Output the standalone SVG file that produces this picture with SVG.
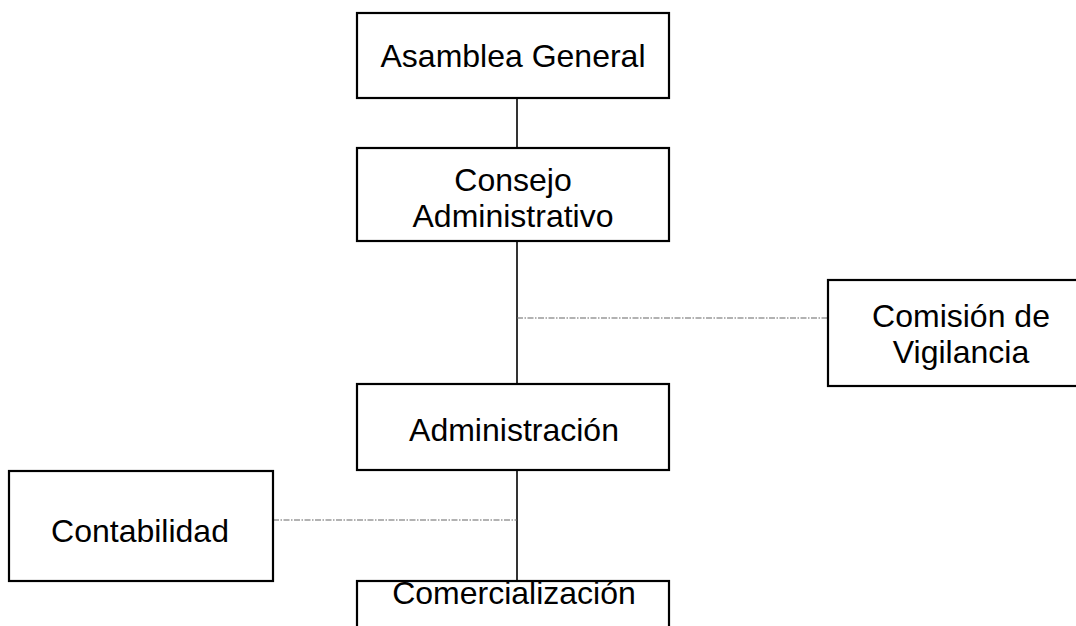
<svg xmlns="http://www.w3.org/2000/svg" width="1076" height="626" viewBox="0 0 1076 626">
<style>
.box{fill:#fff;stroke:#000;stroke-width:2.2}
.t{font-family:"Liberation Sans",Arial,sans-serif;font-size:32px;fill:#000;text-anchor:middle}
.solid{stroke:#000;stroke-width:1.6;fill:none}
.dash{stroke:#666;stroke-width:1.2;fill:none;stroke-dasharray:6 1.5 1.5 1.5}
</style>
<rect width="1076" height="626" fill="#fff"/>
<g id="connectors">
<line class="solid" x1="517" y1="98" x2="517" y2="148"/>
<line class="solid" x1="517" y1="241" x2="517" y2="384"/>
<line class="solid" x1="517" y1="470" x2="517" y2="581"/>
<line class="dash" x1="517" y1="318" x2="828" y2="318"/>
<line class="dash" x1="273" y1="520" x2="517" y2="520"/>
</g>
<g id="asamblea">
<rect class="box" x="357" y="13" width="312" height="85"/>
<text class="t" x="513" y="67">Asamblea General</text>
</g>
<g id="consejo">
<rect class="box" x="357" y="148" width="312" height="93"/>
<text class="t" x="513" y="191">Consejo</text>
<text class="t" x="513" y="227">Administrativo</text>
</g>
<g id="comision">
<rect class="box" x="828" y="280" width="266" height="106"/>
<text class="t" x="961" y="327">Comisión de</text>
<text class="t" x="961" y="363">Vigilancia</text>
</g>
<g id="administracion">
<rect class="box" x="357" y="384" width="312" height="86"/>
<text class="t" x="514" y="441">Administración</text>
</g>
<g id="contabilidad">
<rect class="box" x="9" y="471" width="264" height="110"/>
<text class="t" x="140" y="542">Contabilidad</text>
</g>
<g id="comercializacion">
<rect class="box" x="357" y="581" width="312" height="80"/>
<text class="t" x="514" y="604">Comercialización</text>
</g>
</svg>
